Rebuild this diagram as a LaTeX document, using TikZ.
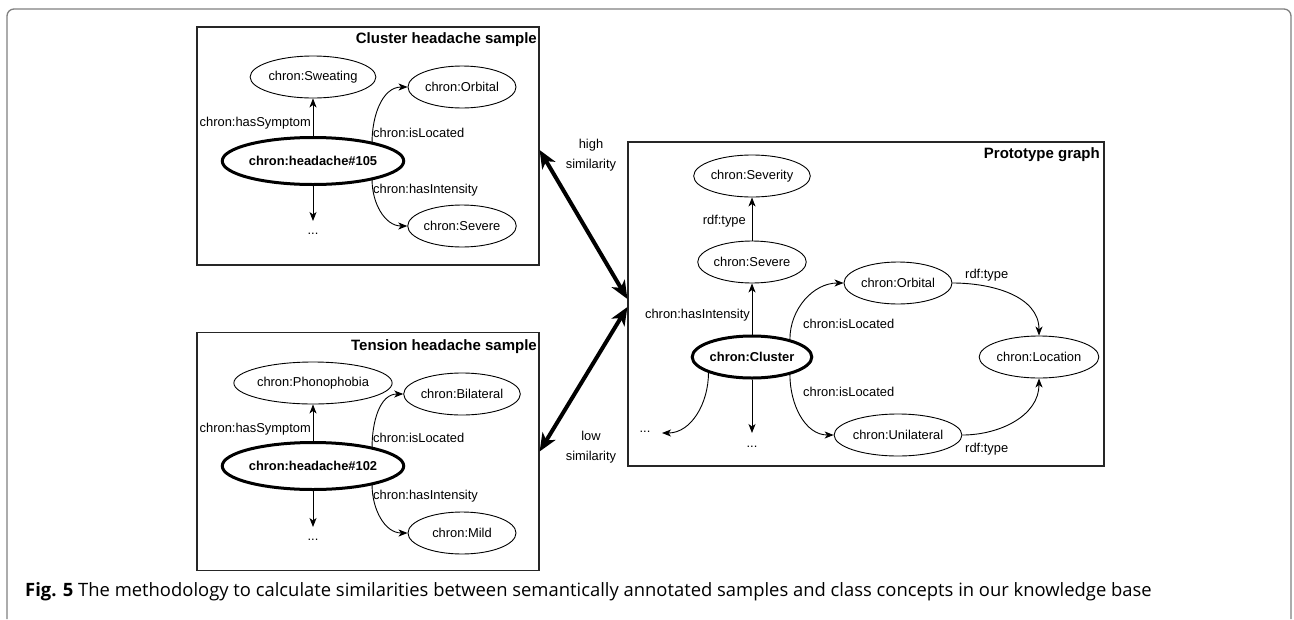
\documentclass[tikz,border=0pt]{standalone}
\usepackage{fontspec}
\setmainfont{Liberation Sans}
\newfontfamily\capfont{Open Sans}
\usepackage{pgf,tikz}
\usetikzlibrary{arrows,arrows.meta,positioning,shapes.geometric}
\usetikzlibrary{calc}

\begin{document}
\begin{tikzpicture}[x=1pt,y=-1pt,
  >={Stealth[length=9pt,width=7pt,inset=2.5pt]},
  every node/.style={font=\fontsize{12.9}{20}\selectfont},
  concept/.style={draw,ellipse,line width=0.9pt,minimum width=108pt,minimum height=42pt,inner sep=0pt},
  sample/.style={concept,line width=3pt,font=\fontsize{12.9}{15}\selectfont\bfseries,minimum width=152pt,minimum height=47pt},
  frame/.style={draw=black!85,line width=1.2pt,minimum width=342pt,minimum height=238pt,inner sep=0pt},
  title/.style={anchor=base east,inner sep=0pt,font=\fontsize{15}{18}\selectfont\bfseries},
  lbl/.style={inner sep=0pt},
  rel/.style={->,line width=0.9pt},
  sim/.style={{Stealth[length=18pt,width=15pt,inset=5pt]}-{Stealth[length=18pt,width=15pt,inset=5pt]},line width=4pt}]
\useasboundingbox (0,0) rectangle (1294,619);
\draw[gray,line width=1.3pt,rounded corners=7pt] (7,619) -- (7,9) -- (1291,9) -- (1291,619);

% cluster headache sample
\node[frame] (clbox) at (368,146) {};
\node[title] (cltitle) at (537,43) {Cluster headache sample};
\node[concept] (sweat) at (313,77) {chron:Sweating};
\node[concept] (orb1) at (462,87) {chron:Orbital};
\node[sample] (head105) at (313,161) {chron:headache\#105};
\node[concept] (sev1) at (462,226) {chron:Severe};
\coordinate (more1) at (313,221);
\node[lbl] (dots1) at (313,234) {...};
\draw[rel] (head105) -- (sweat);
\draw[rel] (head105) -- (more1);
\draw[rel] (head105.18) to[out=90,in=180] (orb1.west);
\draw[rel] (head105.-18) to[out=-90,in=180] (sev1.west);
\node[lbl,anchor=base east] (sym1) at (311,126) {chron:hasSymptom};
\node[lbl,anchor=base west] (loc1) at (373,137) {chron:isLocated};
\node[lbl,anchor=base west] (int1) at (373,193) {chron:hasIntensity};

% tension headache sample
\node[frame] (tnbox) at (368,451.5) {};
\node[title] (tntitle) at (537,350) {Tension headache sample};
\node[concept,minimum width=130pt] (phono) at (313,383) {chron:Phonophobia};
\node[concept] (bil) at (462,394) {chron:Bilateral};
\node[sample] (head102) at (313,466) {chron:headache\#102};
\node[concept] (mild) at (462,533) {chron:Mild};
\coordinate (more2) at (313,527);
\node[lbl] (dots2) at (313,540) {...};
\draw[rel] (head102) -- (phono);
\draw[rel] (head102) -- (more2);
\draw[rel] (head102.18) to[out=90,in=180] (bil.west);
\draw[rel] (head102.-18) to[out=-90,in=180] (mild.west);
\node[lbl,anchor=base east] (sym2) at (311,432) {chron:hasSymptom};
\node[lbl,anchor=base west] (loc2) at (373,442) {chron:isLocated};
\node[lbl,anchor=base west] (int2) at (373,499) {chron:hasIntensity};

% prototype
\node[frame,minimum width=476pt,minimum height=324pt] (proto) at (866,304) {};
\node[title] (prtitle) at (1100,158) {Prototype graph};
\node[concept] (severity) at (752,176) {chron:Severity};
\node[concept] (severe) at (752,262) {chron:Severe};
\node[sample,minimum width=110pt,minimum height=42pt] (cluster) at (752,357) {chron:Cluster};
\node[concept] (orbital) at (898,283) {chron:Orbital};
\node[concept] (location) at (1039,357) {chron:Location};
\node[concept] (unilat) at (898,435) {chron:Unilateral};
\coordinate (more3) at (752,433);
\coordinate (more4) at (662,433);
\node[lbl] (dots3) at (752,447) {...};
\node[lbl] (dots4) at (645,432) {...};
\draw[rel] (severe) -- (severity);
\draw[rel] (cluster) -- (severe);
\draw[rel] (cluster) -- (more3);
\draw[rel] (cluster.-160) to[out=-90,in=0] (more4);
\draw[rel] (cluster.25) to[out=90,in=180] (orbital.west);
\draw[rel] (cluster.-25) to[out=-90,in=180] (unilat.west);
\draw[rel] (orbital.east) to[out=0,in=90] (location.north);
\draw[rel] (unilat.east) to[out=0,in=-90] (location.south);
\node[lbl,anchor=base east] (type1) at (746,224) {rdf:type};
\node[lbl,anchor=base east] (int3) at (750,318) {chron:hasIntensity};
\node[lbl,anchor=base west] (loc3) at (803,328) {chron:isLocated};
\node[lbl,anchor=base west] (loc4) at (803,396) {chron:isLocated};
\node[lbl,anchor=base west] (type2) at (965,278) {rdf:type};
\node[lbl,anchor=base west] (type3) at (965,452) {rdf:type};

% similarity
\draw[sim] ([yshift=-4pt]clbox.east) -- ([yshift=5pt]proto.west);
\draw[sim] (tnbox.east) -- ([yshift=-3pt]proto.west);
\node[align=center] (high) at (591,155) {high\\similarity};
\node[align=center] (low) at (591,447) {low\\similarity};

\node[anchor=base west,inner sep=0pt,font=\capfont\fontsize{18.4}{22}\selectfont] (caption) at (25,596)
  {\textbf{Fig. 5} The methodology to calculate similarities between semantically annotated samples and class concepts in our knowledge base};
\end{tikzpicture}
\end{document}
